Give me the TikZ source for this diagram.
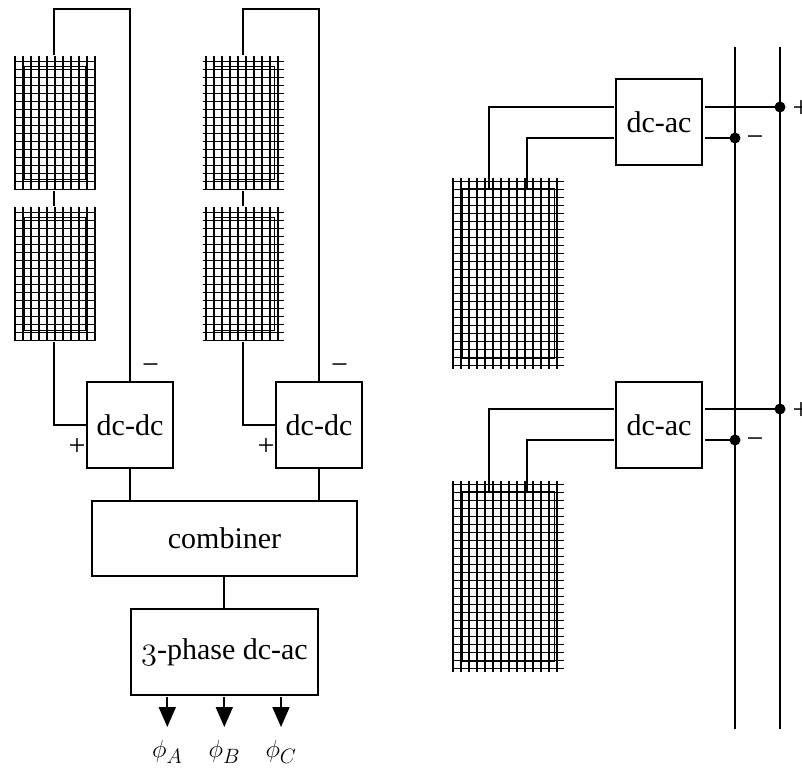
\documentclass[tikz,border=0pt]{standalone}
\usepackage{fontspec}
\setmainfont{Liberation Serif}
\usetikzlibrary{positioning,arrows.meta,calc}

% griglia del pannello: nome, x, y, larghezza, altezza, colonne, righe, scarto y, scarto x
\newcommand{\pvpanel}[9]{
    \node[panelframe,minimum width=#4pt-20pt,minimum height=#5pt-21pt,anchor=north west]
        (#1) at (#2+10,#3+10.5) {};
    \foreach \i in {0,...,#6}{
        \draw[panelgrid] ({#2+#9+\i*8},#3) -- ++(0,#5);
    }
    \foreach \j in {0,...,#7}{
        \draw[panelgrid] (#2,{#3+#8+\j*8}) -- ++(#4,0);
    }
}
\newcommand{\oldthree}{\scalebox{1.3}{\usefont{OML}{cmm}{m}{it}3}}

\begin{document}
\begin{tikzpicture}[
    x=1pt,
    y=-1pt,
    block/.style={
        draw,
        line width=1.6pt,
        inner sep=0pt,
        outer sep=0pt,
        align=center,
        font=\fontsize{30}{36}\selectfont
    },
    conv/.style={
        block,
        minimum width=86pt,
        minimum height=86pt
    },
    panelframe/.style={
        draw,
        line width=0.9pt,
        inner sep=0pt,
        outer sep=0pt
    },
    panelgrid/.style={line width=1.6pt},
    wire/.style={line width=1.8pt},
    arr/.style={-{Triangle[length=20pt,width=17pt]},line width=1.8pt},
    dot/.style={circle,fill=black,inner sep=0pt,outer sep=0pt,minimum size=11pt},
    polab/.style={inner sep=0pt,font=\fontsize{30}{36}\selectfont},
    phlab/.style={inner sep=0pt,font=\fontsize{30}{36}\selectfont}
]
\useasboundingbox (0,0) rectangle (802,769);

% ---------------------------------------------------------
% Stringhe con dc-dc, combiner e inverter trifase
% ---------------------------------------------------------

\pvpanel{pa1}{14}{56}{81}{134}{10}{16}{5.3}{0.7}
\pvpanel{pa2}{14}{207}{81}{134}{10}{16}{5.3}{0.7}
\pvpanel{pb1}{203}{56}{81}{134}{9}{16}{5.3}{2.7}
\pvpanel{pb2}{203}{207}{81}{134}{9}{16}{5.3}{2.7}

\node[conv]  (dca) at (130,425) {dc-dc};
\node[conv]  (dcb) at (319,425) {dc-dc};

\node[block,minimum width=265pt,minimum height=75pt] (comb) at (224.5,538.5) {combiner};
\node[block,minimum width=187pt,minimum height=86pt] (inv) at (224.5,652) {\oldthree-phase dc-ac};

\coordinate (pa1t) at (54,55);
\coordinate (pa1b) at (54,191);
\coordinate (pa2t) at (54,206);
\coordinate (pa2b) at (54,342);
\coordinate (pb1t) at (243,55);
\coordinate (pb1b) at (243,191);
\coordinate (pb2t) at (243,206);
\coordinate (pb2b) at (243,342);
\coordinate (cin) at (224.3,576);
\coordinate (cout) at (224.3,609);

\draw[wire] (pa1t) |- (92,9) -| (dca.north);
\draw[wire] (pa1b) -- (pa2t);
\draw[wire] (pa2b) |- (dca.west);

\draw[wire] (pb1t) |- (281,9) -| (dcb.north);
\draw[wire] (pb1b) -- (pb2t);
\draw[wire] (pb2b) |- (dcb.west);

\draw[wire] (dca.south) -- (dca.south |- comb.north);
\draw[wire] (dcb.south) -- (dcb.south |- comb.north);
\draw[wire] (cin) -- (cout);

\node[polab] (mina) at (150.5,369) {−};
\node[polab] (plua) at (77,447) {+};
\node[polab] (minb) at (339.5,369) {−};
\node[polab] (plub) at (266,447) {+};

\coordinate (ina) at (167.3,697);
\coordinate (inb) at (224.3,697);
\coordinate (inc) at (281,697);
\coordinate (outa) at (167.3,727);
\coordinate (outb) at (224.3,727);
\coordinate (outc) at (281,727);

\draw[arr] (ina) -- (outa);
\draw[arr] (inb) -- (outb);
\draw[arr] (inc) -- (outc);

\node[phlab] (pha) at (167.3,752) {$\phi_A$};
\node[phlab] (phb) at (224.3,752) {$\phi_B$};
\node[phlab] (phc) at (281,752) {$\phi_C$};

% ---------------------------------------------------------
% Pannelli con dc-ac e bus
% ---------------------------------------------------------

\pvpanel{pc1}{452}{178}{112}{191}{13}{23}{3.3}{0.7}
\pvpanel{pc2}{452}{481}{112}{191}{13}{23}{3.3}{0.7}

\node[conv]  (aca) at (659,122) {dc-ac};
\node[conv]  (acb) at (659,425) {dc-ac};

\coordinate (busnt) at (735,47);
\coordinate (busnb) at (735,729);
\coordinate (buspt) at (780,47);
\coordinate (buspb) at (780,729);

\draw[wire] (busnt) -- (busnb);
\draw[wire] (buspt) -- (buspb);

\node[dot] (dpa) at (780,107) {};
\node[dot] (dna) at (735,138) {};
\node[dot] (dpb) at (780,409) {};
\node[dot] (dnb) at (735,440) {};

\coordinate (acapl) at (614,107);
\coordinate (acanl) at (614,138);
\coordinate (acapr) at (705,107);
\coordinate (acanr) at (705,138);
\coordinate (acbpl) at (614,409);
\coordinate (acbnl) at (614,440);
\coordinate (acbpr) at (705,409);
\coordinate (acbnr) at (705,440);

\coordinate (pc1p) at (489,189);
\coordinate (pc1n) at (527,189);
\coordinate (pc2p) at (489,492);
\coordinate (pc2n) at (527,492);

\draw[wire] (acapl) -| (pc1p);
\draw[wire] (acanl) -| (pc1n);
\draw[wire] (acbpl) -| (pc2p);
\draw[wire] (acbnl) -| (pc2n);

\draw[wire] (acapr) -- (dpa);
\draw[wire] (acanr) -- (dna);
\draw[wire] (acbpr) -- (dpb);
\draw[wire] (acbnr) -- (dnb);

\node[polab] (lpa) at (801,109) {+};
\node[polab] (lna) at (755,141) {−};
\node[polab] (lpb) at (801,411) {+};
\node[polab] (lnb) at (755,443) {−};

\end{tikzpicture}
\end{document}
